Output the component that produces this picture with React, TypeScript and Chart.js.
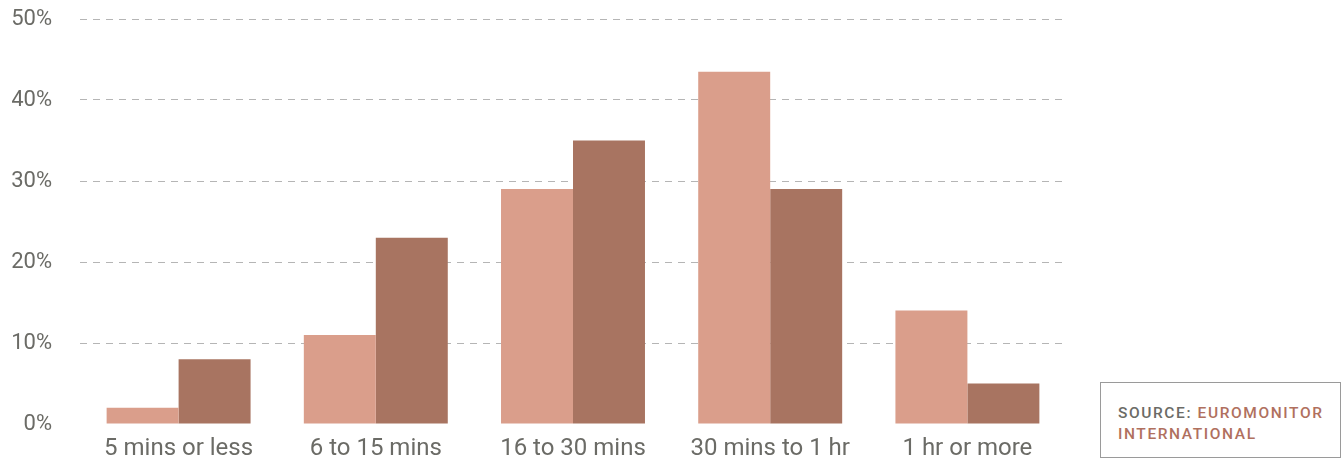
import React, { useEffect, useRef } from "react";
import { Chart, registerables } from "chart.js";

Chart.register(...registerables);

const categories = ["5 mins or less", "6 to 15 mins", "16 to 30 mins", "30 mins to 1 hr", "1 hr or more"];
const seriesA = [2, 11, 29, 43.5, 14];
const seriesB = [8, 23, 35, 29, 5];
const yTicks = [0, 10, 20, 30, 40, 50];

const colorA = "#DA9E8B";
const colorB = "#A87461";
const textColor = "#6b6b66";

export default function App() {
  const ref = useRef<HTMLCanvasElement | null>(null);
  useEffect(() => {
    if (!ref.current) return;
    const chart = new Chart(ref.current, {
      type: "bar",
      data: {
        labels: categories,
        datasets: [
          { label: "A", data: seriesA, backgroundColor: colorA, categoryPercentage: 0.73, barPercentage: 1 },
          { label: "B", data: seriesB, backgroundColor: colorB, categoryPercentage: 0.73, barPercentage: 1 },
        ],
      },
      options: {
        responsive: false,
        animation: false,
        maintainAspectRatio: false,
        layout: { padding: { left: 12, top: 19, right: 0, bottom: 0 } },
        plugins: { legend: { display: false }, tooltip: { enabled: false } },
        scales: {
          x: {
            grid: { display: false, drawTicks: false },
            border: { display: false },
            ticks: { color: textColor, font: { family: "Roboto", size: 24 }, padding: 11 },
            afterFit: (s: any) => {
              s.height = 37;
              s.paddingLeft = 0;
              s.paddingRight = 0;
            },
          },
          y: {
            min: 0,
            max: 50,
            afterBuildTicks: (axis: any) => {
              axis.ticks = yTicks.map((v) => ({ value: v }));
            },
            afterFit: (s: any) => {
              s.width = 68;
              s.paddingTop = 0;
              s.paddingBottom = 0;
            },
            grid: {
              drawTicks: false,
              color: (ctx: any) => (ctx.tick && ctx.tick.value === 0 ? "rgba(0,0,0,0)" : "#b5b5b5"),
              lineWidth: 1,
            },
            border: { display: false, dash: [7, 6] },
            ticks: {
              color: textColor,
              font: { family: "Roboto", size: 22 },
              padding: 28,
              callback: (v: any) => v + "%",
            },
          },
        },
      },
    });
    return () => chart.destroy();
  }, []);

  return (
    <div style={{ position: "fixed", left: 0, top: 0, width: 1342, height: 461, background: "#fff" }}>
      <canvas ref={ref} width={1066} height={461} style={{ position: "absolute", left: 0, top: 0 }} />
      <div
        style={{
          position: "absolute",
          left: 1100,
          top: 382,
          width: 239,
          height: 74,
          border: "1px solid #9a9a9a",
          boxSizing: "content-box",
          fontFamily: "Roboto",
          fontWeight: 500,
          fontSize: 15.5,
          letterSpacing: "1.6px",
          lineHeight: "21px",
        }}
      >
        <div style={{ position: "absolute", left: 17, top: 20, whiteSpace: "nowrap" }}>
          <span style={{ color: "#6b6b66" }}>SOURCE: </span>
          <span style={{ color: "#B0705E" }}>EUROMONITOR</span>
          <br />
          <span style={{ color: "#B0705E" }}>INTERNATIONAL</span>
        </div>
      </div>
    </div>
  );
}
